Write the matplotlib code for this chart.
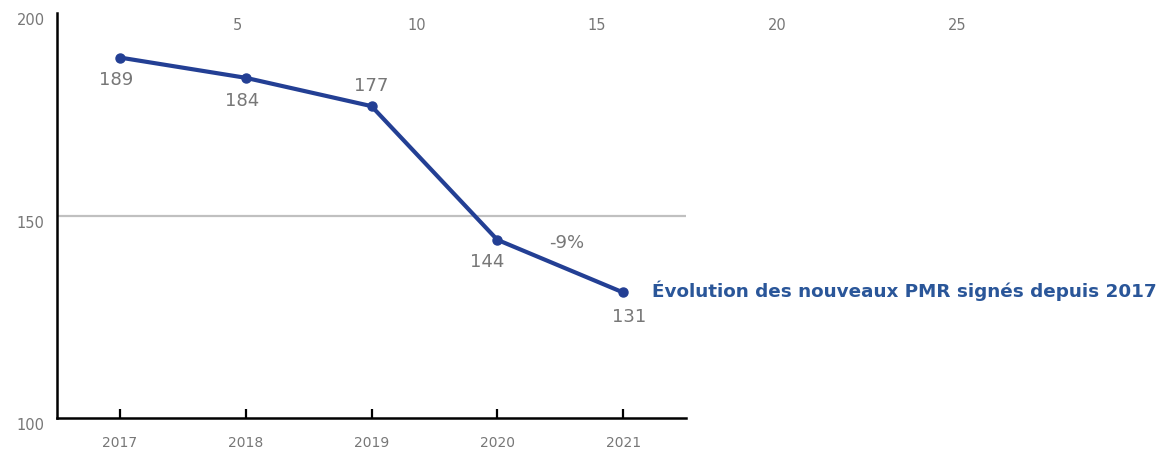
import matplotlib
matplotlib.use('Agg')
import matplotlib.pyplot as plt

# data
years = [2017, 2018, 2019, 2020, 2021]
pmr_signed = [189, 184, 177, 144, 131]
label_offsets_px = [(-4, -22), (-4, -23), (0, 20), (-10, -22), (6, -25)]
top_ticks = [5, 10, 15, 20, 25]
change_label = '-9%'
series_label = 'Évolution des nouveaux PMR signés depuis 2017'

line_color = '#233f94'
title_color = '#2a5699'
gray = '#777777'
px = 0.72  # pixels -> points at dpi 100

plt.rcParams['font.family'] = ['DejaVu Sans']

fig = plt.figure(figsize=(11.66, 4.55), dpi=100)
W, H = 1166, 455
left, right, top, bottom = 57, 686, 13, 418
ax = fig.add_axes([left / W, 1 - bottom / H, (right - left) / W, (bottom - top) / H])

# helper axes for the top scale (extends past the main plot)
ax_top = fig.add_axes([left / W, 1 - bottom / H, 36 * 30 / W, (bottom - 33) / H], zorder=-1)
ax_top.set_xlim(0, 30)
ax_top.set_ylim(0, 1)
ax_top.patch.set_visible(False)
for s in ax_top.spines.values():
    s.set_visible(False)
ax_top.set_yticks([])
ax_top.xaxis.tick_top()
ax_top.set_xticks(top_ticks)
ax_top.set_xticklabels([str(t) for t in top_ticks])
ax_top.tick_params(axis='x', length=0, pad=0, labelsize=10.5, labelcolor=gray)

ax.set_xlim(years[0] - 0.5, years[-1] + 0.5)
ax.set_ylim(100, 200)
ax.patch.set_visible(False)

ax.axhline(150, color='#c0c0c0', lw=1.6, zorder=1)
ax.plot(years, pmr_signed, color=line_color, lw=3, marker='o', ms=6.5, zorder=3,
        solid_capstyle='round')

for x, y, (dx, dy) in zip(years, pmr_signed, label_offsets_px):
    ax.annotate(str(y), (x, y), xytext=(dx * px, dy * px), textcoords='offset points',
                ha='center', va='center', fontsize=13, color=gray)

# change annotation near the last segment
mx = (years[-2] + years[-1]) / 2
my = (pmr_signed[-2] + pmr_signed[-1]) / 2
ax.annotate(change_label, (mx, my), xytext=(6 * px, 23 * px), textcoords='offset points',
            ha='center', va='center', fontsize=13, color=gray)

ax.annotate(series_label, (years[-1], pmr_signed[-1]), xytext=(29 * px, 2 * px),
            textcoords='offset points', ha='left', va='center', fontsize=13.2,
            fontweight='bold', color=title_color, annotation_clip=False)

for s in ['top', 'right']:
    ax.spines[s].set_visible(False)
for s in ['left', 'bottom']:
    ax.spines[s].set_linewidth(1.8)
    ax.spines[s].set_color('black')

ax.set_xticks(years)
ax.set_xticklabels([str(y) for y in years])
ax.tick_params(axis='x', direction='in', length=6.5, width=1.6, pad=13,
               labelsize=10, labelcolor=gray)

ax.set_yticks([100, 150, 200])
ax.set_yticklabels(['100', '150', '200'])
ax.tick_params(axis='y', length=0, pad=9, labelsize=10.5, labelcolor=gray)
for lbl in ax.get_yticklabels():
    lbl.set_verticalalignment('top')

fig.savefig('out.png', dpi=100)
